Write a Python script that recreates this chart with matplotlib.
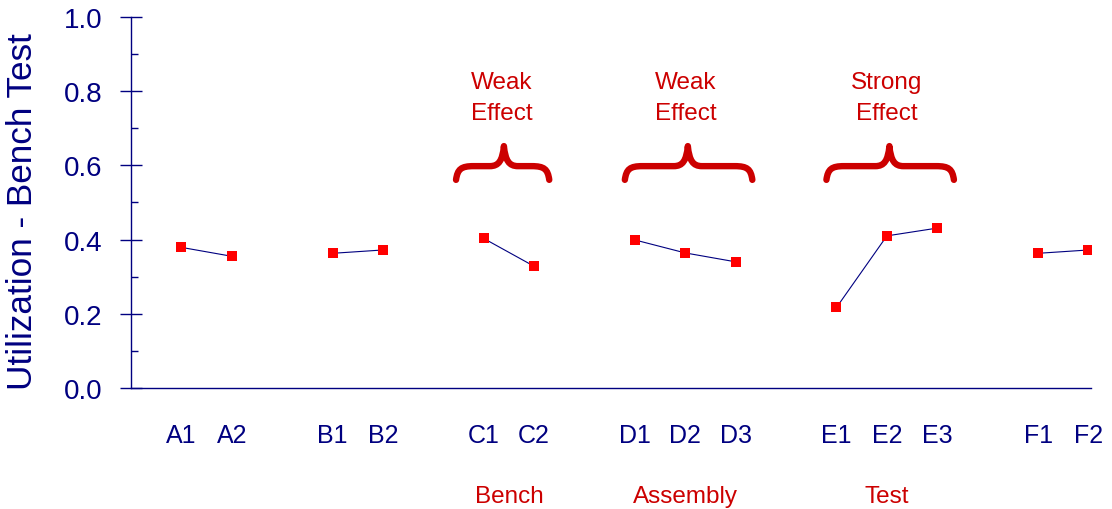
import matplotlib
matplotlib.use("Agg")
import matplotlib.pyplot as plt
from matplotlib.path import Path
from matplotlib.patches import PathPatch

plt.rcParams['font.family'] = ['Liberation Sans', 'DejaVu Sans']

NAVY = "#000080"
DARKRED = "#CC0000"

# factor levels and measured utilization
factors = ["A", "B", "C", "D", "E", "F"]
n_levels = [2, 2, 2, 3, 3, 2]
util = [
    [0.379, 0.355],
    [0.363, 0.372],
    [0.403, 0.328],
    [0.399, 0.364, 0.340],
    [0.217, 0.410, 0.431],
    [0.363, 0.372],
]

# annotated factors
effect_factor = ["C", "D", "E"]
effect_strength = ["Weak", "Weak", "Strong"]
group_names = ["Bench", "Assembly", "Test"]

fig = plt.figure(figsize=(11.12, 5.10), dpi=100)
ax = fig.add_axes([0.1178, 0.2373, 0.8633, 0.7274])

# lay factors out one after another with a blank slot between them
pos = {}
xt, xl = [], []
x = 1
for f, n, vals in zip(factors, n_levels, util):
    xs = list(range(x, x + n))
    pos[f] = xs
    ax.plot(xs, vals, color=NAVY, lw=0.8, zorder=2)
    ax.plot(xs, vals, ls="none", marker="s", ms=6.8, mew=0, color="#FF0000", zorder=3)
    xt += xs
    xl += [f + str(i + 1) for i in range(n)]
    x += n + 1

ax.set_xlim(0, 19.05)
ax.set_ylim(0, 1.0)
ax.set_xticks(xt)
ax.set_xticklabels(xl, fontsize=18, color=NAVY)
ax.tick_params(axis="x", length=0, pad=25)
ax.set_yticks([0, 0.2, 0.4, 0.6, 0.8, 1.0])
ax.set_yticklabels(["0.0", "0.2", "0.4", "0.6", "0.8", "1.0"], fontsize=20, color=NAVY)
ax.set_yticks([0.1, 0.3, 0.5, 0.7, 0.9], minor=True)
ax.tick_params(axis="y", which="major", direction="inout", length=16.5, width=1, color=NAVY, pad=12)
ax.tick_params(axis="y", which="minor", direction="in", length=5, width=1, color=NAVY)

for s in ["top", "right"]:
    ax.spines[s].set_visible(False)
for s in ["left", "bottom"]:
    ax.spines[s].set_color(NAVY)
    ax.spines[s].set_linewidth(1)

ax.set_ylabel("Utilization - Bench Test", fontsize=25.3, color=NAVY, va="center")
ax.yaxis.set_label_coords(-0.1125, 0.478)


def brace(ax, x0, x1, xc, ye, yb, yt):
    verts = [
        (x0, ye),
        (x0 + 0.03, yb - 0.008), (x0 + 0.1, yb), (x0 + 0.35, yb),
        (xc - 0.28, yb),
        (xc - 0.1, yb), (xc - 0.03, yb + 0.015), (xc, yt),
        (xc + 0.03, yb + 0.015), (xc + 0.1, yb), (xc + 0.28, yb),
        (x1 - 0.35, yb),
        (x1 - 0.1, yb), (x1 - 0.03, yb - 0.008), (x1, ye),
    ]
    codes = [Path.MOVETO,
             Path.CURVE4, Path.CURVE4, Path.CURVE4,
             Path.LINETO,
             Path.CURVE4, Path.CURVE4, Path.CURVE4,
             Path.CURVE4, Path.CURVE4, Path.CURVE4,
             Path.LINETO,
             Path.CURVE4, Path.CURVE4, Path.CURVE4]
    p = PathPatch(Path(verts, codes), fill=False, ec=DARKRED, lw=4.6,
                  capstyle="round", joinstyle="round", clip_on=False)
    ax.add_patch(p)


for f, strength, name in zip(effect_factor, effect_strength, group_names):
    xs = pos[f]
    mid = (xs[0] + xs[-1]) / 2
    if len(xs) == 2:
        x0, x1, xc = xs[0] - 0.55, xs[-1] + 0.3, mid - 0.1
    else:
        x0, x1, xc = xs[0] - 0.2, xs[-1] + 0.33, mid + 0.05
    brace(ax, x0, x1, xc, 0.561, 0.598, 0.652)
    ax.text(xc - 0.05, 0.825, strength, ha="center", va="center", fontsize=17.5, color=DARKRED)
    ax.text(xc - 0.05, 0.741, "Effect", ha="center", va="center", fontsize=17.5, color=DARKRED)
    ax.text(mid, -0.29, name, ha="center", va="center", fontsize=17.5, color=DARKRED, clip_on=False)

fig.savefig("out.png", dpi=100)
